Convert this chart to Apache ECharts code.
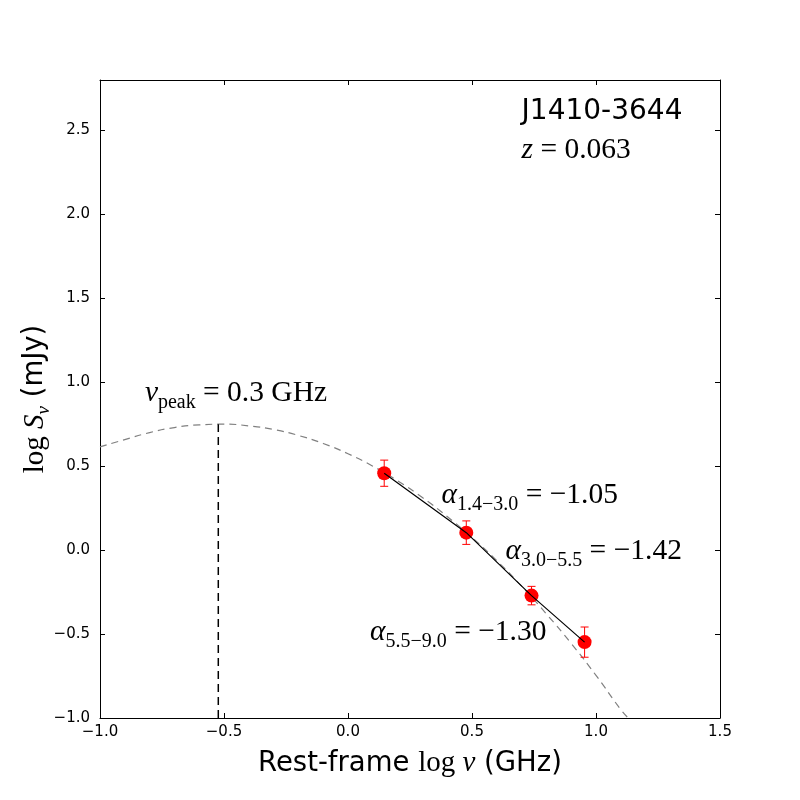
<!DOCTYPE html>
<html>
<head>
<meta charset="utf-8">
<script src="https://cdn.jsdelivr.net/npm/echarts@6/dist/echarts.min.js"></script>
<style>
  html, body { margin: 0; padding: 0; background: #fff; }
  #chart { width: 800px; height: 800px; }
</style>
</head>
<body>
<div id="chart"></div>
<script>
// measured points: log of observing frequency (GHz) and log flux (mJy)
var freqLog = [0.146, 0.477, 0.740, 0.954];
var fluxLog = [0.458, 0.104, -0.271, -0.548];
var fluxErr = [0.078, 0.070, 0.055, 0.090];

// fitted curved spectrum
var curveX = [-1.0, -0.9, -0.8, -0.7, -0.6, -0.5, -0.4, -0.3, -0.2, -0.1, 0.0, 0.1, 0.2, 0.3, 0.4, 0.5, 0.6, 0.7, 0.8, 0.9, 1.0, 1.1, 1.13];
var curveY = [0.615, 0.658, 0.70, 0.73, 0.746, 0.75, 0.74, 0.718, 0.683, 0.635, 0.574, 0.50, 0.413, 0.313, 0.20, 0.075, -0.063, -0.215, -0.38, -0.556, -0.746, -0.95, -1.0];

// turnover frequency
var peakLog = -0.523;
var peakFlux = 0.75;

// annotations: [x, y, rich text]
var notes = [
    [0.70, 2.613, '{sans|J1410-3644}'],
    [0.70, 2.38, '{i|z}{m| = 0.063}'],
    [-0.819, 0.935, '{i|ν}{sub|peak}{m| = 0.3 GHz}'],
    [0.377, 0.327, '{i|α}{sub|1.4−3.0}{m| = −1.05}'],
    [0.635, -0.006, '{i|α}{sub|3.0−5.5}{m| = −1.42}'],
    [0.089, -0.488, '{i|α}{sub|5.5−9.0}{m| = −1.30}']
];

var SERIF = '"Liberation Serif", "DejaVu Serif", serif';
var SANS = '"DejaVu Sans", sans-serif';

function fmt(v) {
    return v.toFixed(1).replace('-', '\u2212');
}

var mathRich = {
    m: { fontFamily: SERIF, fontSize: 29.5, color: '#000', lineHeight: 40, verticalAlign: 'middle' },
    i: { fontFamily: SERIF, fontStyle: 'italic', fontSize: 29.5, color: '#000', lineHeight: 40, verticalAlign: 'middle' },
    sub: { fontFamily: SERIF, fontSize: 20, color: '#000', lineHeight: 19, verticalAlign: 'bottom' },
    sans: { fontFamily: SANS, fontSize: 28, color: '#000', lineHeight: 40, verticalAlign: 'middle' }
};

var pts = freqLog.map(function (x, i) { return [x, fluxLog[i]]; });
var errs = freqLog.map(function (x, i) { return [x, fluxLog[i] - fluxErr[i], fluxLog[i] + fluxErr[i]]; });
var curve = curveX.map(function (x, i) { return [x, curveY[i]]; });

function baseX(pos, labels) {
    return {
        type: 'value', position: pos, min: -1.0, max: 1.5, interval: 0.5,
        axisLine: { show: true, onZero: false, lineStyle: { color: '#000', width: 1 } },
        axisTick: { show: true, inside: true, length: 5, lineStyle: { color: '#000' } },
        axisLabel: { show: labels, margin: 7, fontFamily: SANS, fontSize: 15, color: '#000', formatter: fmt },
        splitLine: { show: false }
    };
}
function baseY(pos, labels) {
    return {
        type: 'value', position: pos, min: -1.0, max: 2.8, interval: 0.5,
        axisLine: { show: true, onZero: false, lineStyle: { color: '#000', width: 1 } },
        axisTick: { show: true, inside: true, length: 5, lineStyle: { color: '#000' } },
        axisLabel: { show: labels, margin: 10, fontFamily: SANS, fontSize: 15, color: '#000', formatter: fmt, showMaxLabel: false },
        splitLine: { show: false }
    };
}

var xMain = baseX('bottom', true);
xMain.name = '{s|Rest-frame }{m|log }{i|ν}{s| (GHz)}';
xMain.nameLocation = 'middle';
xMain.nameGap = 31;
xMain.nameTextStyle = {
    color: '#000',
    rich: {
        s: { fontFamily: SANS, fontSize: 27.5, color: '#000' },
        m: { fontFamily: SERIF, fontSize: 29, color: '#000' },
        i: { fontFamily: SERIF, fontStyle: 'italic', fontSize: 29, color: '#000' }
    }
};

var yMain = baseY('left', true);
yMain.name = '{m|log }{i|S}{sub|ν}{s| (mJy)}';
yMain.nameLocation = 'middle';
yMain.nameGap = 47;
yMain.nameMoveOverlap = false;
yMain.nameRotate = 90;
yMain.nameTextStyle = {
    color: '#000',
    rich: {
        s: { fontFamily: SANS, fontSize: 27.5, color: '#000', lineHeight: 36, verticalAlign: 'middle' },
        m: { fontFamily: SERIF, fontSize: 29, color: '#000', lineHeight: 36, verticalAlign: 'middle' },
        i: { fontFamily: SERIF, fontStyle: 'italic', fontSize: 29, color: '#000', lineHeight: 36, verticalAlign: 'middle' },
        sub: { fontFamily: SERIF, fontStyle: 'italic', fontSize: 19, color: '#000', lineHeight: 19, verticalAlign: 'bottom' }
    }
};

var chart = echarts.init(document.getElementById('chart'), null, { renderer: 'canvas' });
chart.setOption({
    animation: false,
    backgroundColor: '#fff',
    grid: { left: 100, right: 80, top: 80, bottom: 82 },
    xAxis: [xMain, baseX('top', false)],
    yAxis: [yMain, baseY('right', false)],
    series: [
        {
            // model curve
            type: 'line', data: curve, smooth: true, symbol: 'none', clip: true,
            lineStyle: { color: '#808080', width: 1.2, type: [7, 5] }, z: 2
        },
        {
            // peak marker
            type: 'line', data: [[peakLog, -1.0], [peakLog, peakFlux]], symbol: 'none',
            lineStyle: { color: '#000', width: 1.5, type: [8, 5] }, z: 2
        },
        {
            type: 'custom',
            data: errs,
            renderItem: function (params, api) {
                var lo = api.coord([api.value(0), api.value(1)]);
                var hi = api.coord([api.value(0), api.value(2)]);
                var w = 4;
                var st = { stroke: '#ff0000', lineWidth: 1 };
                return {
                    type: 'group',
                    children: [
                        { type: 'line', shape: { x1: lo[0], y1: lo[1], x2: hi[0], y2: hi[1] }, style: st },
                        { type: 'line', shape: { x1: lo[0] - w, y1: lo[1], x2: lo[0] + w, y2: lo[1] }, style: st },
                        { type: 'line', shape: { x1: hi[0] - w, y1: hi[1], x2: hi[0] + w, y2: hi[1] }, style: st }
                    ]
                };
            },
            z: 3
        },
        {
            type: 'scatter', data: pts, symbol: 'circle', symbolSize: 14,
            itemStyle: { color: '#ff0000', opacity: 1 }, z: 4
        },
        {
            // power-law segments between neighbouring points
            type: 'line', data: pts, symbol: 'none',
            lineStyle: { color: '#000', width: 1.2 }, z: 5
        },
        {
            type: 'scatter', data: notes, symbolSize: 0, silent: true, z: 6,
            itemStyle: { opacity: 1 },
            label: {
                show: true, position: 'right', distance: 0, color: '#000',
                formatter: function (p) { return p.data[2]; },
                rich: mathRich
            }
        }
    ]
});
</script>
</body>
</html>
